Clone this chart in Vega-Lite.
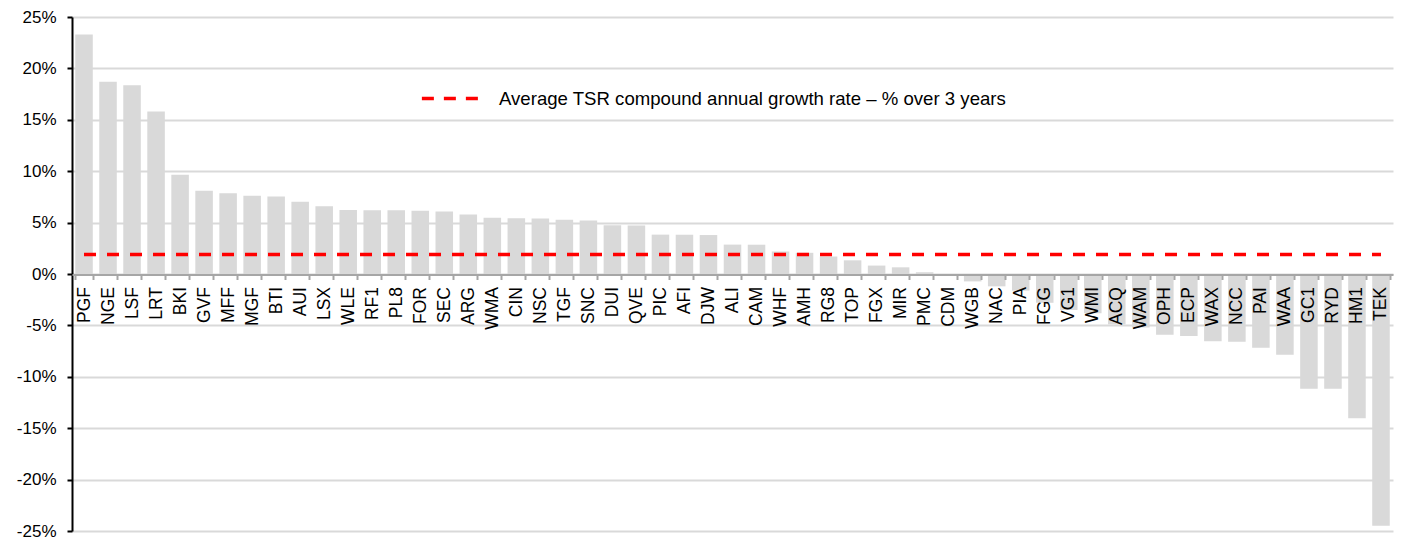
{
  "$schema": "https://vega.github.io/schema/vega-lite/v6.json",
  "width": 1321,
  "height": 514,
  "autosize": "none",
  "padding": {"left": 72, "top": 17, "right": 10, "bottom": 10},
  "background": "white",
  "config": {
    "view": {"stroke": null},
    "font": "Liberation Sans",
    "axis": {"labelFont": "Liberation Sans", "labelColor": "#000000", "titleFont": "Liberation Sans"},
    "legend": {"labelFont": "Liberation Sans"}
  },
  "data": {
    "values": [
      {"code": "PGF", "tsr": 23.3, "avg": 1.9},
      {"code": "NGE", "tsr": 18.7, "avg": 1.9},
      {"code": "LSF", "tsr": 18.35, "avg": 1.9},
      {"code": "LRT", "tsr": 15.8, "avg": 1.9},
      {"code": "BKI", "tsr": 9.66, "avg": 1.9},
      {"code": "GVF", "tsr": 8.1, "avg": 1.9},
      {"code": "MFF", "tsr": 7.85, "avg": 1.9},
      {"code": "MGF", "tsr": 7.62, "avg": 1.9},
      {"code": "BTI", "tsr": 7.55, "avg": 1.9},
      {"code": "AUI", "tsr": 7.03, "avg": 1.9},
      {"code": "LSX", "tsr": 6.58, "avg": 1.9},
      {"code": "WLE", "tsr": 6.22, "avg": 1.9},
      {"code": "RF1", "tsr": 6.2, "avg": 1.9},
      {"code": "PL8", "tsr": 6.2, "avg": 1.9},
      {"code": "FOR", "tsr": 6.15, "avg": 1.9},
      {"code": "SEC", "tsr": 6.08, "avg": 1.9},
      {"code": "ARG", "tsr": 5.8, "avg": 1.9},
      {"code": "WMA", "tsr": 5.48, "avg": 1.9},
      {"code": "CIN", "tsr": 5.42, "avg": 1.9},
      {"code": "NSC", "tsr": 5.39, "avg": 1.9},
      {"code": "TGF", "tsr": 5.27, "avg": 1.9},
      {"code": "SNC", "tsr": 5.2, "avg": 1.9},
      {"code": "DUI", "tsr": 4.74, "avg": 1.9},
      {"code": "QVE", "tsr": 4.72, "avg": 1.9},
      {"code": "PIC", "tsr": 3.83, "avg": 1.9},
      {"code": "AFI", "tsr": 3.82, "avg": 1.9},
      {"code": "DJW", "tsr": 3.79, "avg": 1.9},
      {"code": "ALI", "tsr": 2.86, "avg": 1.9},
      {"code": "CAM", "tsr": 2.85, "avg": 1.9},
      {"code": "WHF", "tsr": 2.19, "avg": 1.9},
      {"code": "AMH", "tsr": 2.06, "avg": 1.9},
      {"code": "RG8", "tsr": 1.7, "avg": 1.9},
      {"code": "TOP", "tsr": 1.33, "avg": 1.9},
      {"code": "FGX", "tsr": 0.82, "avg": 1.9},
      {"code": "MIR", "tsr": 0.65, "avg": 1.9},
      {"code": "PMC", "tsr": 0.17, "avg": 1.9},
      {"code": "CDM", "tsr": -0.05, "avg": 1.9},
      {"code": "WGB", "tsr": -0.72, "avg": 1.9},
      {"code": "NAC", "tsr": -1.2, "avg": 1.9},
      {"code": "PIA", "tsr": -1.62, "avg": 1.9},
      {"code": "FGG", "tsr": -2.8, "avg": 1.9},
      {"code": "VG1", "tsr": -3.5, "avg": 1.9},
      {"code": "WMI", "tsr": -3.83, "avg": 1.9},
      {"code": "ACQ", "tsr": -4.9, "avg": 1.9},
      {"code": "WAM", "tsr": -5.2, "avg": 1.9},
      {"code": "OPH", "tsr": -5.9, "avg": 1.9},
      {"code": "ECP", "tsr": -6.03, "avg": 1.9},
      {"code": "WAX", "tsr": -6.55, "avg": 1.9},
      {"code": "NCC", "tsr": -6.6, "avg": 1.9},
      {"code": "PAI", "tsr": -7.17, "avg": 1.9},
      {"code": "WAA", "tsr": -7.85, "avg": 1.9},
      {"code": "GC1", "tsr": -11.16, "avg": 1.9},
      {"code": "RYD", "tsr": -11.16, "avg": 1.9},
      {"code": "HM1", "tsr": -14.04, "avg": 1.9},
      {"code": "TEK", "tsr": -24.48, "avg": 1.9}
    ]
  },
  "encoding": {
    "x": {
      "field": "code",
      "type": "nominal",
      "sort": null,
      "scale": {"paddingInner": 0.27, "paddingOuter": 0.135},
      "axis": {
        "title": null,
        "orient": "bottom",
        "offset": -256.5,
        "labelAngle": -90,
        "labelFontSize": 17.5,
        "labelPadding": 7,
        "tickBand": "extent",
        "ticks": true,
        "tickSize": 5,
        "tickColor": "#a6a6a6",
        "tickWidth": 2,
        "domainColor": "#a6a6a6",
        "domainWidth": 2,
        "grid": false,
        "labelOverlap": false,
        "zindex": 1
      }
    }
  },
  "layer": [
    {
      "mark": {"type": "bar", "color": "#d9d9d9"},
      "encoding": {
        "y": {
          "field": "tsr",
          "type": "quantitative",
          "scale": {"domain": [-25, 25], "nice": false},
          "axis": {
            "title": null,
            "values": [-25, -20, -15, -10, -5, 0, 5, 10, 15, 20, 25],
            "labelExpr": "datum.value + '%'",
            "labelFontSize": 17,
            "labelPadding": 11,
            "tickSize": 5,
            "tickColor": "#000000",
            "tickWidth": 2,
            "domainColor": "#000000",
            "domainWidth": 2,
            "grid": true,
            "gridColor": "#d9d9d9",
            "gridWidth": 2
          }
        }
      }
    },
    {
      "mark": {"type": "line", "strokeWidth": 3.5, "strokeDash": [12, 11]},
      "encoding": {
        "y": {"field": "avg", "type": "quantitative"},
        "color": {
          "datum": "Average TSR compound annual growth rate – % over 3 years",
          "scale": {"range": ["#ff0000"]},
          "legend": {
            "title": null,
            "orient": "none",
            "legendX": 348,
            "legendY": 48,
            "symbolType": "stroke",
            "symbolSize": 4000,
            "symbolStrokeWidth": 3.5,
            "symbolDash": [12, 10],
            "labelFontSize": 18.6,
            "labelOffset": 12,
            "labelLimit": 0,
            "labelColor": "#000000"
          }
        }
      }
    }
  ]
}
